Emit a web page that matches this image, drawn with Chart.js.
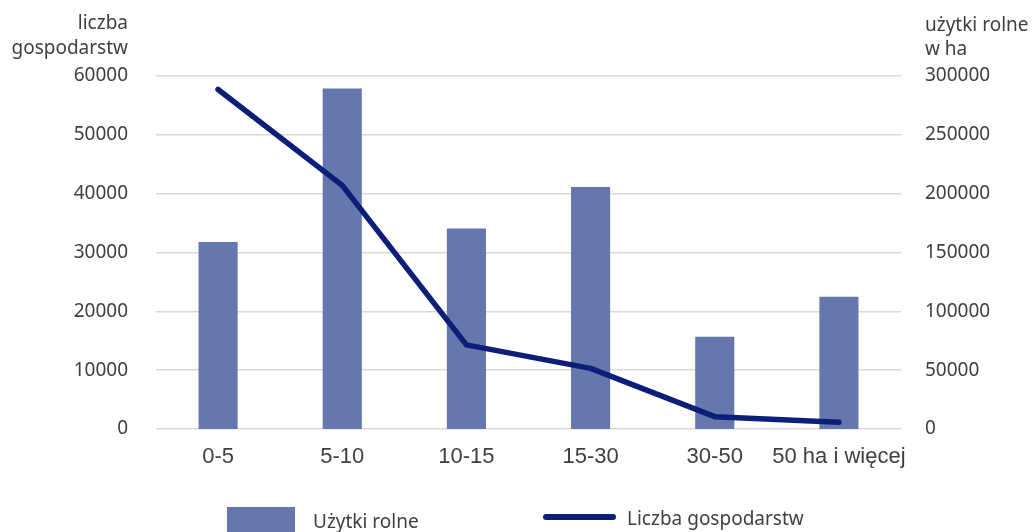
<!DOCTYPE html>
<html>
<head>
<meta charset="utf-8">
<script src="https://cdn.jsdelivr.net/npm/chart.js@4/dist/chart.umd.min.js"></script>
<style>
  html, body { margin: 0; padding: 0; background: #ffffff; }
  #wrap { position: relative; width: 1034px; height: 532px; }
</style>
</head>
<body>
<div id="wrap"><canvas id="chart" width="1034" height="532"></canvas></div>
<script>
// Grupy obszarowe gospodarstw
const categories = ['0-5', '5-10', '10-15', '15-30', '30-50', '50 ha i więcej'];
// Użytki rolne w ha (prawa oś)
const uzytkiRolne = [159000, 289300, 170400, 205700, 78400, 112300];
// Liczba gospodarstw (lewa oś)
const liczbaGospodarstw = [57700, 41400, 14300, 10300, 2100, 1150];

const leftAxisTitle = ['liczba', 'gospodarstw'];
const rightAxisTitle = ['użytki rolne', 'w ha'];

const BAR_COLOR = '#6677ad';
const LINE_COLOR = '#0b1f78';
const TEXT_COLOR = '#404040';
const SIDE_FONT = '19px "Noto Sans", "Open Sans", sans-serif';

// Axis titles above both value axes and the legend below the x axis
const decorations = {
  id: 'decorations',
  afterDraw(chart) {
    const ctx = chart.ctx;
    const yl = chart.scales.y;
    const yr = chart.scales.y1;
    ctx.save();
    ctx.fillStyle = TEXT_COLOR;
    ctx.font = SIDE_FONT;
    ctx.textBaseline = 'middle';
    ctx.textAlign = 'right';
    leftAxisTitle.forEach((t, i) => ctx.fillText(t, yl.right - 28, 24 + i * 25));
    ctx.textAlign = 'left';
    rightAxisTitle.forEach((t, i) => ctx.fillText(t, yr.left + 24, 26 + i * 24));

    // legend
    const ds = chart.data.datasets;
    const bar = ds.find(d => d.type === 'bar');
    const line = ds.find(d => d.type === 'line');
    ctx.fillStyle = bar.backgroundColor;
    ctx.fillRect(227, 507, 68, 30);
    ctx.fillStyle = TEXT_COLOR;
    ctx.fillText(bar.label, 313, 523);
    ctx.strokeStyle = line.borderColor;
    ctx.lineWidth = 6;
    ctx.lineCap = 'round';
    ctx.beginPath();
    ctx.moveTo(546, 517);
    ctx.lineTo(613, 517);
    ctx.stroke();
    ctx.fillText(line.label, 627, 520);
    ctx.restore();
  }
};

const plainNumber = v => String(v);

new Chart(document.getElementById('chart'), {
  data: {
    labels: categories,
    datasets: [
      {
        type: 'line',
        label: 'Liczba gospodarstw',
        data: liczbaGospodarstw,
        yAxisID: 'y',
        borderColor: LINE_COLOR,
        backgroundColor: LINE_COLOR,
        borderWidth: 5.5,
        borderCapStyle: 'round',
        borderJoinStyle: 'round',
        tension: 0,
        pointRadius: 0,
        order: 0
      },
      {
        type: 'bar',
        label: 'Użytki rolne',
        data: uzytkiRolne,
        yAxisID: 'y1',
        backgroundColor: BAR_COLOR,
        categoryPercentage: 1,
        barPercentage: 0.315,
        order: 1
      }
    ]
  },
  options: {
    responsive: false,
    animation: false,
    layout: { padding: { top: 76, left: 0, right: 0, bottom: 0 } },
    plugins: { legend: { display: false }, tooltip: { enabled: false } },
    scales: {
      x: {
        grid: { display: false },
        border: { display: false },
        ticks: {
          color: TEXT_COLOR,
          font: { family: '"Liberation Sans", Arial, sans-serif', size: 22 },
          padding: 7,
          maxRotation: 0,
          autoSkip: false
        },
        afterFit(s) { s.height = 103; }
      },
      y: {
        position: 'left',
        min: 0,
        max: 60000,
        ticks: {
          stepSize: 10000,
          color: TEXT_COLOR,
          font: { family: '"Noto Sans", "Open Sans", sans-serif', size: 19 },
          padding: 28,
          callback: plainNumber
        },
        grid: { color: '#d9d9d9', lineWidth: 1.5, drawTicks: false },
        border: { display: false },
        afterFit(s) { s.width = 156; }
      },
      y1: {
        position: 'right',
        min: 0,
        max: 300000,
        ticks: {
          stepSize: 50000,
          color: TEXT_COLOR,
          font: { family: '"Noto Sans", "Open Sans", sans-serif', size: 19 },
          padding: 24,
          callback: plainNumber
        },
        grid: { display: false, drawTicks: false },
        border: { display: false },
        afterFit(s) { s.width = 133; }
      }
    }
  },
  plugins: [decorations]
});
</script>
</body>
</html>
